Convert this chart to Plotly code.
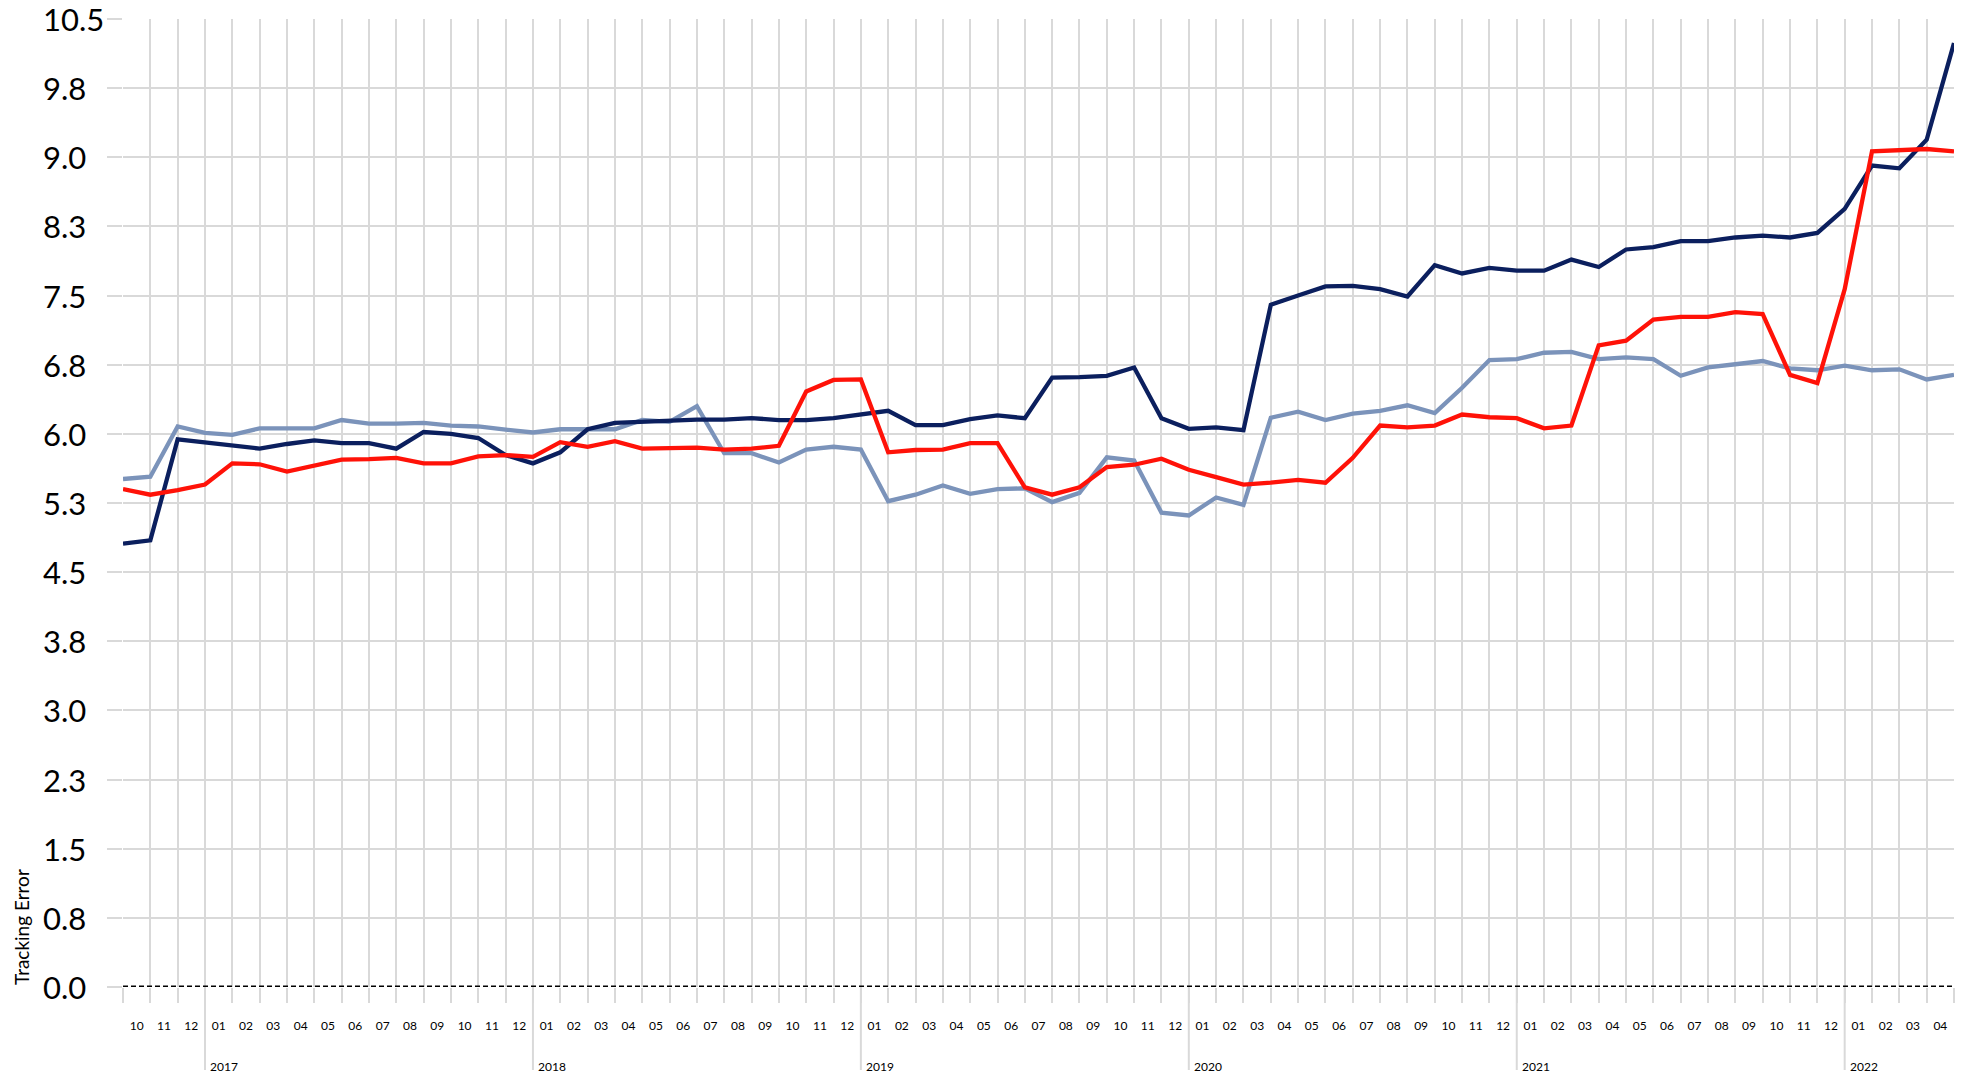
import plotly.graph_objects as go

# ---------------- data ----------------
month_labels = ["10", "11", "12"] + [f"{m:02d}" for m in range(1, 13)] * 5 + ["01", "02", "03", "04"]
year_labels = ["2017", "2018", "2019", "2020", "2021", "2022"]

series_navy = [4.81, 4.845, 5.94, 5.91, 5.88, 5.84, 5.89, 5.93, 5.90, 5.90,
               5.84, 6.02, 6.00, 5.955, 5.77, 5.68, 5.80, 6.05, 6.12, 6.13,
               6.15, 6.155, 6.155, 6.17, 6.15, 6.15, 6.17, 6.21, 6.25, 6.095,
               6.095, 6.16, 6.20, 6.17, 6.61, 6.615, 6.63, 6.72, 6.17, 6.055,
               6.07, 6.04, 7.40, 7.50, 7.60, 7.605, 7.57, 7.49, 7.83, 7.74,
               7.80, 7.77, 7.77, 7.89, 7.81, 8.00, 8.025, 8.09, 8.09, 8.13,
               8.15, 8.13, 8.18, 8.44, 8.91, 8.88, 9.19, 10.24]

series_lightblue = [5.51, 5.535, 6.08, 6.01, 5.99, 6.06, 6.06, 6.06, 6.15, 6.11,
                    6.11, 6.12, 6.09, 6.08, 6.045, 6.015, 6.05, 6.05, 6.05, 6.15,
                    6.13, 6.30, 5.79, 5.79, 5.69, 5.83, 5.86, 5.83, 5.27, 5.34,
                    5.44, 5.35, 5.40, 5.41, 5.26, 5.36, 5.745, 5.71, 5.145, 5.115,
                    5.31, 5.23, 6.175, 6.24, 6.15, 6.22, 6.25, 6.31, 6.225, 6.50,
                    6.80, 6.81, 6.88, 6.89, 6.81, 6.83, 6.81, 6.63, 6.72, 6.755,
                    6.79, 6.71, 6.69, 6.74, 6.69, 6.70, 6.59, 6.64]

series_red = [5.40, 5.34, 5.39, 5.45, 5.68, 5.67, 5.59, 5.65, 5.72, 5.725,
              5.74, 5.68, 5.68, 5.755, 5.77, 5.75, 5.91, 5.86, 5.92, 5.84,
              5.84, 5.85, 5.83, 5.84, 5.87, 6.46, 6.585, 6.59, 5.80, 5.825,
              5.83, 5.90, 5.90, 5.42, 5.34, 5.42, 5.64, 5.665, 5.73, 5.61,
              5.53, 5.45, 5.47, 5.50, 5.47, 5.74, 6.09, 6.07, 6.09, 6.21,
              6.18, 6.17, 6.06, 6.09, 6.96, 7.01, 7.24, 7.27, 7.27, 7.32,
              7.30, 6.64, 6.55, 7.57, 9.065, 9.08, 9.09, 9.065]

y_tickvals = [0, 0.75, 1.5, 2.25, 3.0, 3.75, 4.5, 5.25, 6.0, 6.75, 7.5, 8.25, 9.0, 9.75, 10.5]
y_ticktext = ["0.0", "0.8", "1.5", "2.3", "3.0", "3.8", "4.5", "5.3", "6.0", "6.8",
              "7.5", "8.3", "9.0", "9.8", "10.5"]
y_title = "Tracking Error"

# ---------------- figure ----------------
FONT = "Lato"
GRID = "#d9d9d9"
n_pts = len(series_navy)
xs = list(range(n_pts))
W, H = 1969, 1076
ML, MR, MT, MB = 123, 15, 19, 89
plot_h = H - MT - MB

fig = go.Figure()
fig.add_trace(go.Scatter(x=xs, y=series_lightblue, mode="lines",
                         line=dict(color="#7b93ba", width=4.3), showlegend=False))
fig.add_trace(go.Scatter(x=xs, y=series_navy, mode="lines",
                         line=dict(color="#0b1f5e", width=4.3), showlegend=False))
fig.add_trace(go.Scatter(x=xs, y=series_red, mode="lines",
                         line=dict(color="#ff1208", width=4.3), showlegend=False))
fig.add_trace(go.Scatter(x=xs, y=[0] * n_pts, mode="lines", xaxis="x2",
                         line=dict(color="#000000", width=3, dash="5px,3px"),
                         showlegend=False))

fig.update_layout(
    width=W, height=H,
    margin=dict(l=ML, r=MR, t=MT, b=MB),
    paper_bgcolor="white", plot_bgcolor="white",
    font=dict(family=FONT, color="#000000"),
    hovermode=False,
    xaxis=dict(range=[0, n_pts - 1], tickmode="array", tickvals=xs,
               showticklabels=False, ticks="outside", ticklen=15,
               tickcolor=GRID, tickwidth=2, showgrid=True, gridcolor=GRID,
               gridwidth=2, zeroline=False, showline=False),
    xaxis2=dict(range=[0, n_pts - 1], overlaying="x", side="bottom", anchor="y",
                tickmode="array",
                tickvals=[k + 0.5 for k in range(len(month_labels))],
                ticktext=month_labels, ticks="", ticklen=0,
                ticklabelstandoff=30,
                tickfont=dict(family=FONT, size=12, color="#000000"),
                showgrid=False, zeroline=False, showline=False),
    yaxis=dict(range=[0, 10.5], tickmode="array", tickvals=y_tickvals,
               showticklabels=False, ticks="outside", ticklen=15,
               tickcolor=GRID, tickwidth=2, showgrid=True, gridcolor=GRID,
               gridwidth=2, zeroline=False, showline=False),
)

annotations = []
for v, t in zip(y_tickvals, y_ticktext):
    annotations.append(dict(x=0, xref="paper", xshift=-82, xanchor="left",
                            y=v, yref="y", yanchor="middle", text=t,
                            showarrow=False,
                            font=dict(family=FONT, size=31, color="#000000")))

year_pos = [i for i, m in enumerate(month_labels) if m == "01"]
shapes = []
for yl, pos in zip(year_labels, year_pos):
    shapes.append(dict(type="line", xref="x", yref="paper", x0=pos, x1=pos,
                       y0=0, y1=-83 / plot_h, line=dict(color=GRID, width=2)))
    annotations.append(dict(x=pos, xref="x", xshift=3, xanchor="left",
                            y=0, yref="paper", yshift=-79, yanchor="middle",
                            text=yl, showarrow=False,
                            font=dict(family=FONT, size=12, color="#000000")))

annotations.append(dict(x=0, xref="paper", xshift=-102, xanchor="center",
                        y=60 / plot_h, yref="paper", yanchor="middle",
                        text=y_title, textangle=-90, showarrow=False,
                        font=dict(family=FONT, size=19, color="#000000")))

fig.update_layout(annotations=annotations, shapes=shapes)
fig.write_html("out.html", config={"displayModeBar": False, "staticPlot": True},
               post_script="document.body.style.margin='0';document.body.style.overflow='hidden';")
